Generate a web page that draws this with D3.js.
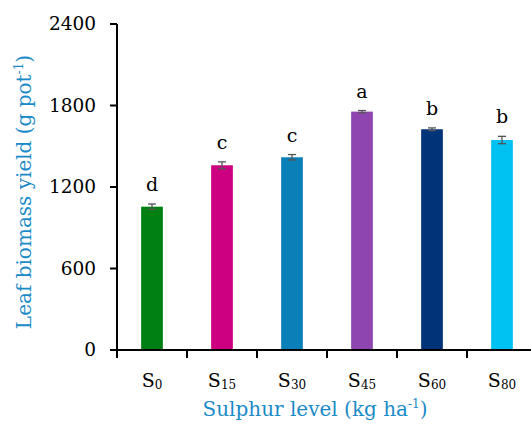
<!DOCTYPE html>
<html>
<head>
<meta charset="utf-8">
<script src="https://cdn.jsdelivr.net/npm/d3@7"></script>
<style>
  body { margin: 0; background: #fff; }
  svg { display: block; }
  text { font-family: "DejaVu Serif", "Liberation Serif", serif; }
</style>
</head>
<body>
<div id="chart"></div>
<script>
// data
var levels = ["0", "15", "30", "45", "60", "80"];
var yieldMean = [1055, 1360, 1419, 1755, 1625, 1546];
var yieldErr = [20, 25, 20, 8, 10, 27];
var letters = ["d", "c", "c", "a", "b", "b"];
var barColors = ["#007f12", "#cc0080", "#0b7fb8", "#8e45b0", "#003377", "#00c2f2"];
var yTicks = [0, 600, 1200, 1800, 2400];

var width = 531;
var height = 424;
var margin = { top: 24, right: 0, bottom: 74, left: 117 };
var innerWidth = width - margin.left - margin.right;
var innerHeight = height - margin.top - margin.bottom;
var step = 70;

var svg = d3.select("#chart").append("svg").attr("width", width).attr("height", height);
var g = svg.append("g").attr("transform", "translate(" + margin.left + "," + margin.top + ")");

// the last category's band runs a little past the right edge in the original
var x = d3.scaleBand().domain(levels).range([0, step * levels.length]).padding(0);
var y = d3.scaleLinear().domain([0, 2400]).range([innerHeight, 0]);
var barW = x.bandwidth() * 0.31;

// bars
g.selectAll(".bar")
  .data(levels)
  .enter()
  .append("rect")
  .attr("class", "bar")
  .attr("x", function (d) { return x(d) + x.bandwidth() / 2 - barW / 2; })
  .attr("y", function (d, i) { return y(yieldMean[i]); })
  .attr("width", barW)
  .attr("height", function (d, i) { return innerHeight - y(yieldMean[i]); })
  .attr("fill", function (d, i) { return barColors[i]; });

// error bars
var eb = g.selectAll(".err").data(levels).enter().append("g").attr("class", "err")
  .attr("stroke", "#555").attr("stroke-width", 1.3);
eb.append("line")
  .attr("x1", function (d) { return x(d) + x.bandwidth() / 2; })
  .attr("x2", function (d) { return x(d) + x.bandwidth() / 2; })
  .attr("y1", function (d, i) { return y(yieldMean[i] + yieldErr[i]); })
  .attr("y2", function (d, i) { return y(yieldMean[i] - yieldErr[i]); });
[1, -1].forEach(function (s) {
  eb.append("line")
    .attr("x1", function (d) { return x(d) + x.bandwidth() / 2 - 4; })
    .attr("x2", function (d) { return x(d) + x.bandwidth() / 2 + 4; })
    .attr("y1", function (d, i) { return y(yieldMean[i] + s * yieldErr[i]); })
    .attr("y2", function (d, i) { return y(yieldMean[i] + s * yieldErr[i]); });
});

// significance letters
g.selectAll(".letter")
  .data(levels)
  .enter()
  .append("text")
  .attr("class", "letter")
  .attr("x", function (d) { return x(d) + x.bandwidth() / 2; })
  .attr("y", function (d, i) { return y(yieldMean[i] + yieldErr[i]) - 13; })
  .attr("text-anchor", "middle")
  .style("font-size", "19px")
  .text(function (d, i) { return letters[i]; });

// y axis
g.append("line")
  .attr("x1", 0).attr("x2", 0)
  .attr("y1", 0).attr("y2", innerHeight + 8)
  .attr("stroke", "#000").attr("stroke-width", 2);
g.selectAll(".ytick")
  .data(yTicks)
  .enter()
  .append("line")
  .attr("x1", -7).attr("x2", 0)
  .attr("y1", function (d) { return y(d); })
  .attr("y2", function (d) { return y(d); })
  .attr("stroke", "#000").attr("stroke-width", 2);
g.selectAll(".ylab")
  .data(yTicks)
  .enter()
  .append("text")
  .attr("x", -21)
  .attr("y", function (d) { return y(d); })
  .attr("dy", "0.35em")
  .attr("text-anchor", "end")
  .style("font-size", "18.5px")
  .text(function (d) { return d; });

// x axis
g.append("line")
  .attr("x1", -7).attr("x2", innerWidth)
  .attr("y1", innerHeight).attr("y2", innerHeight)
  .attr("stroke", "#000").attr("stroke-width", 2);
g.selectAll(".xtick")
  .data(levels)
  .enter()
  .append("line")
  .attr("x1", function (d) { return x(d); })
  .attr("x2", function (d) { return x(d); })
  .attr("y1", innerHeight).attr("y2", innerHeight + 8)
  .attr("stroke", "#000").attr("stroke-width", 2);
var xl = g.selectAll(".xlab")
  .data(levels)
  .enter()
  .append("text")
  .attr("x", function (d) { return x(d) + x.bandwidth() / 2; })
  .attr("y", innerHeight + 37)
  .attr("text-anchor", "middle")
  .style("font-size", "19px");
xl.append("tspan").text("S");
xl.append("tspan").attr("dy", 2).style("font-size", "12px").text(function (d) { return d; });

// axis titles
var xt = svg.append("text")
  .attr("x", 315)
  .attr("y", 416)
  .attr("text-anchor", "middle")
  .attr("fill", "#1a8ac8")
  .style("font-size", "20px");
xt.append("tspan").text("Sulphur level (kg ha");
xt.append("tspan").attr("dy", -8).style("font-size", "12px").text("-1");
xt.append("tspan").attr("dy", 8).text(")");

var yt = svg.append("text")
  .attr("transform", "translate(31,192) rotate(-90)")
  .attr("text-anchor", "middle")
  .attr("fill", "#1a8ac8")
  .style("font-size", "20px");
yt.append("tspan").text("Leaf biomass yield (g pot");
yt.append("tspan").attr("dy", -8).style("font-size", "12px").text("-1");
yt.append("tspan").attr("dy", 8).text(")");
</script>
</body>
</html>
